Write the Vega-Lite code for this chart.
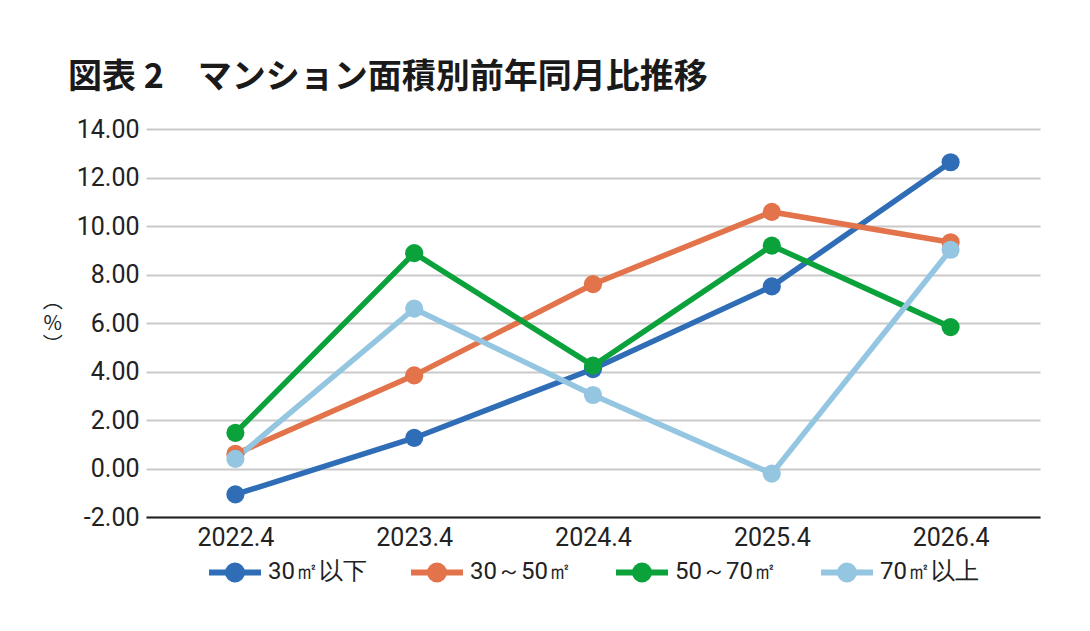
{
  "$schema": "https://vega.github.io/schema/vega-lite/v6.json",
  "width": 894,
  "height": 388,
  "autosize": {"type": "none"},
  "padding": {"left": 146, "top": 129, "right": 50, "bottom": 114},
  "background": "white",
  "title": {
    "text": "図表 2　マンション面積別前年同月比推移",
    "anchor": "start",
    "frame": "group",
    "dx": -78,
    "offset": 22,
    "font": "Noto Sans CJK JP",
    "fontSize": 34,
    "fontWeight": "bold",
    "color": "#1a1a1a"
  },
  "config": {"view": {"stroke": null}},
  "data": {
    "values": [
      {"period": "2022.4", "series": "30㎡以下", "value": -1.07},
      {"period": "2023.4", "series": "30㎡以下", "value": 1.26},
      {"period": "2024.4", "series": "30㎡以下", "value": 4.1},
      {"period": "2025.4", "series": "30㎡以下", "value": 7.51},
      {"period": "2026.4", "series": "30㎡以下", "value": 12.63},
      {"period": "2022.4", "series": "30～50㎡", "value": 0.6},
      {"period": "2023.4", "series": "30～50㎡", "value": 3.84},
      {"period": "2024.4", "series": "30～50㎡", "value": 7.6},
      {"period": "2025.4", "series": "30～50㎡", "value": 10.58},
      {"period": "2026.4", "series": "30～50㎡", "value": 9.33},
      {"period": "2022.4", "series": "50～70㎡", "value": 1.47},
      {"period": "2023.4", "series": "50～70㎡", "value": 8.88},
      {"period": "2024.4", "series": "50～70㎡", "value": 4.24},
      {"period": "2025.4", "series": "50～70㎡", "value": 9.19},
      {"period": "2026.4", "series": "50～70㎡", "value": 5.83},
      {"period": "2022.4", "series": "70㎡以上", "value": 0.4},
      {"period": "2023.4", "series": "70㎡以上", "value": 6.59},
      {"period": "2024.4", "series": "70㎡以上", "value": 3.03},
      {"period": "2025.4", "series": "70㎡以上", "value": -0.21},
      {"period": "2026.4", "series": "70㎡以上", "value": 9.02}
    ]
  },
  "encoding": {
    "x": {
      "field": "period",
      "type": "ordinal",
      "sort": ["2022.4", "2023.4", "2024.4", "2025.4", "2026.4"],
      "scale": {"type": "point", "padding": 0.5},
      "axis": {
        "title": null,
        "labelAngle": 0,
        "labelFont": "Roboto",
        "labelFontSize": 25,
        "labelColor": "#222222",
        "labelPadding": 8,
        "ticks": false,
        "grid": false,
        "domain": true,
        "domainColor": "#222222",
        "domainWidth": 2
      }
    },
    "y": {
      "field": "value",
      "type": "quantitative",
      "scale": {"domain": [-2, 14], "nice": false, "zero": false},
      "axis": {
        "values": [-2, 0, 2, 4, 6, 8, 10, 12, 14],
        "labelExpr": "replace(format(datum.value, '.2f'), '−', '-')",
        "title": ["︵", "%", "︶"],
        "titleAngle": 0,
        "titleFont": "Noto Sans CJK JP",
        "titleFontSize": 20,
        "titleFontWeight": "normal",
        "titleColor": "#222222",
        "titleLineHeight": 22,
        "titlePadding": -20,
        "titleBaseline": "middle",
        "titleY": 172,
        "labelFont": "Roboto",
        "labelFontSize": 25,
        "labelColor": "#222222",
        "labelPadding": 7,
        "ticks": false,
        "domain": false,
        "grid": true,
        "gridColor": "#c9c9c9",
        "gridWidth": 2
      }
    },
    "color": {
      "field": "series",
      "type": "nominal",
      "scale": {
        "domain": ["30㎡以下", "30～50㎡", "50～70㎡", "70㎡以上"],
        "range": ["#2f6db6", "#e2734a", "#0ba23c", "#94c5e1"]
      },
      "legend": {
        "title": null,
        "orient": "none",
        "legendX": 60,
        "legendY": 414,
        "direction": "horizontal",
        "columnPadding": 32,
        "symbolType": "M-1,0H1M0.27,0A0.27,0.27 0 1,1 -0.27,0A0.27,0.27 0 1,1 0.27,0",
        "symbolSize": 2700,
        "symbolStrokeWidth": 6,
        "symbolOpacity": 1,
        "labelFont": "Roboto",
        "labelFontSize": 24,
        "labelColor": "#222222",
        "labelOffset": 4,
        "encode": {
          "symbols": {
            "update": {
              "fill": {"scale": "color", "field": "value"},
              "stroke": {"scale": "color", "field": "value"},
              "fillOpacity": {"value": 1},
              "strokeOpacity": {"value": 1}
            }
          }
        }
      }
    }
  },
  "layer": [
    {"mark": {"type": "line", "strokeWidth": 5.5}},
    {"mark": {"type": "point", "filled": true, "size": 330, "opacity": 1}}
  ]
}
